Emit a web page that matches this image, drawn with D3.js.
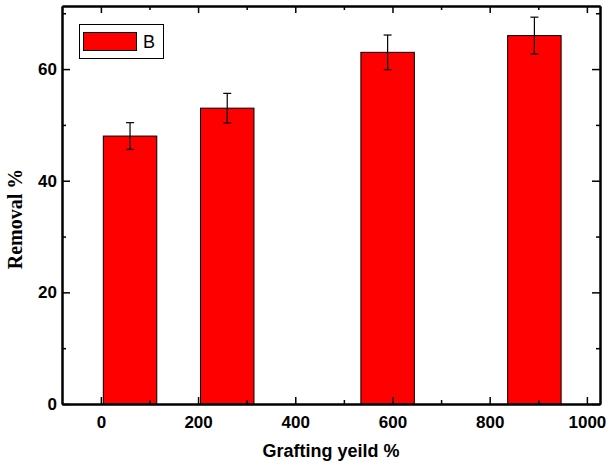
<!DOCTYPE html>
<html>
<head>
<meta charset="utf-8">
<script src="https://cdn.jsdelivr.net/npm/d3@7"></script>
<style>
  html, body { margin: 0; padding: 0; background: #fff; }
  svg { display: block; }
  .tick text { font-family: Arial, "Liberation Sans", sans-serif; font-weight: bold; font-size: 17px; fill: #000; }
</style>
</head>
<body>
<svg id="chart" width="610" height="467"></svg>
<script>
// Grafting yield (%) vs. removal (%), series B
const grafting = [60, 260, 590, 892];
const removal = [48, 53, 63, 66];
const removalErr = [2.4, 2.65, 3.1, 3.3];
const seriesName = "B";
const xMajorTicks = [0, 200, 400, 600, 800, 1000];
const xMinorTicks = [100, 300, 500, 700, 900];
const yMajorTicks = [0, 20, 40, 60];
const yMinorTicks = [10, 30, 50, 70];
const barWidthUnits = 110;

const svg = d3.select("#chart");
const plotL = 62, plotR = 600, plotT = 6, plotB = 404;

const x = d3.scaleLinear().domain([-80, 1027]).range([plotL, plotR]);
const y = d3.scaleLinear().domain([0, 71.3]).range([plotB, plotT]);
const fmt = d3.format("d");

// bars
svg.append("g").selectAll("rect")
  .data(grafting)
  .join("rect")
  .attr("x", (d) => x(d - barWidthUnits / 2))
  .attr("width", (d) => x(d + barWidthUnits / 2) - x(d - barWidthUnits / 2))
  .attr("y", (d, i) => y(removal[i]))
  .attr("height", (d, i) => y(0) - y(removal[i]))
  .attr("fill", "#ff0000")
  .attr("stroke", "#000")
  .attr("stroke-width", 1);

// error bars
const eb = svg.append("g").attr("stroke", "#000").attr("stroke-width", 1.2);
grafting.forEach((g, i) => {
  const cx = x(g);
  const y1 = y(removal[i] + removalErr[i]);
  const y2 = y(removal[i] - removalErr[i]);
  eb.append("line").attr("x1", cx).attr("x2", cx).attr("y1", y1).attr("y2", y2);
  eb.append("line").attr("x1", cx - 4).attr("x2", cx + 4).attr("y1", y1).attr("y2", y1);
  eb.append("line").attr("x1", cx - 4).attr("x2", cx + 4).attr("y1", y2).attr("y2", y2);
});

// axes with inward ticks, mirrored on top/right
function styleAxis(g) {
  g.select(".domain").attr("stroke", "#000").attr("stroke-width", 2);
  g.selectAll(".tick line").attr("stroke", "#000").attr("stroke-width", 1.5);
}

svg.append("g")
  .attr("transform", `translate(0,${plotB})`)
  .call(d3.axisBottom(x).tickValues(xMinorTicks).tickSizeInner(-4).tickSizeOuter(0).tickFormat(""))
  .call(styleAxis);
const xAxis = svg.append("g")
  .attr("transform", `translate(0,${plotB})`)
  .call(d3.axisBottom(x).tickValues(xMajorTicks).tickSizeInner(-7).tickSizeOuter(0).tickPadding(15).tickFormat(fmt))
  .call(styleAxis);
xAxis.selectAll(".tick text").attr("dy", "0.5em");

svg.append("g")
  .attr("transform", `translate(0,${plotT})`)
  .call(d3.axisTop(x).tickValues(xMinorTicks).tickSizeInner(-4).tickSizeOuter(0).tickFormat(""))
  .call(styleAxis);
svg.append("g")
  .attr("transform", `translate(0,${plotT})`)
  .call(d3.axisTop(x).tickValues(xMajorTicks).tickSizeInner(-7).tickSizeOuter(0).tickFormat(""))
  .call(styleAxis);

svg.append("g")
  .attr("transform", `translate(${plotL},0)`)
  .call(d3.axisLeft(y).tickValues(yMinorTicks).tickSizeInner(-4).tickSizeOuter(0).tickFormat(""))
  .call(styleAxis);
svg.append("g")
  .attr("transform", `translate(${plotL},0)`)
  .call(d3.axisLeft(y).tickValues(yMajorTicks).tickSizeInner(-8).tickSizeOuter(0).tickPadding(5).tickFormat(fmt))
  .call(styleAxis);

svg.append("g")
  .attr("transform", `translate(${plotR},0)`)
  .call(d3.axisRight(y).tickValues(yMinorTicks).tickSizeInner(-4).tickSizeOuter(0).tickFormat(""))
  .call(styleAxis);
svg.append("g")
  .attr("transform", `translate(${plotR},0)`)
  .call(d3.axisRight(y).tickValues(yMajorTicks).tickSizeInner(-8).tickSizeOuter(0).tickFormat(""))
  .call(styleAxis);

// axis titles
svg.append("text")
  .attr("x", (plotL + plotR) / 2)
  .attr("y", 457)
  .attr("text-anchor", "middle")
  .attr("font-family", "Arial, 'Liberation Sans', sans-serif")
  .attr("font-weight", "bold")
  .attr("font-size", 18)
  .text("Grafting yeild %");

svg.append("text")
  .attr("transform", "translate(22,219) rotate(-90)")
  .attr("text-anchor", "middle")
  .attr("font-family", "'Times New Roman', 'Liberation Serif', serif")
  .attr("font-weight", "bold")
  .attr("font-size", 20)
  .text("Removal %");

// legend
const lg = svg.append("g");
lg.append("rect").attr("x", 79.5).attr("y", 24.5).attr("width", 84).attr("height", 34)
  .attr("fill", "#fff").attr("stroke", "#000").attr("stroke-width", 1);
lg.append("rect").attr("x", 83.5).attr("y", 32.5).attr("width", 53).attr("height", 18)
  .attr("fill", "#ff0000").attr("stroke", "#000").attr("stroke-width", 1);
lg.append("text").attr("x", 143).attr("y", 48)
  .attr("font-family", "Arial, 'Liberation Sans', sans-serif")
  .attr("font-size", 18)
  .text(seriesName);
</script>
</body>
</html>
